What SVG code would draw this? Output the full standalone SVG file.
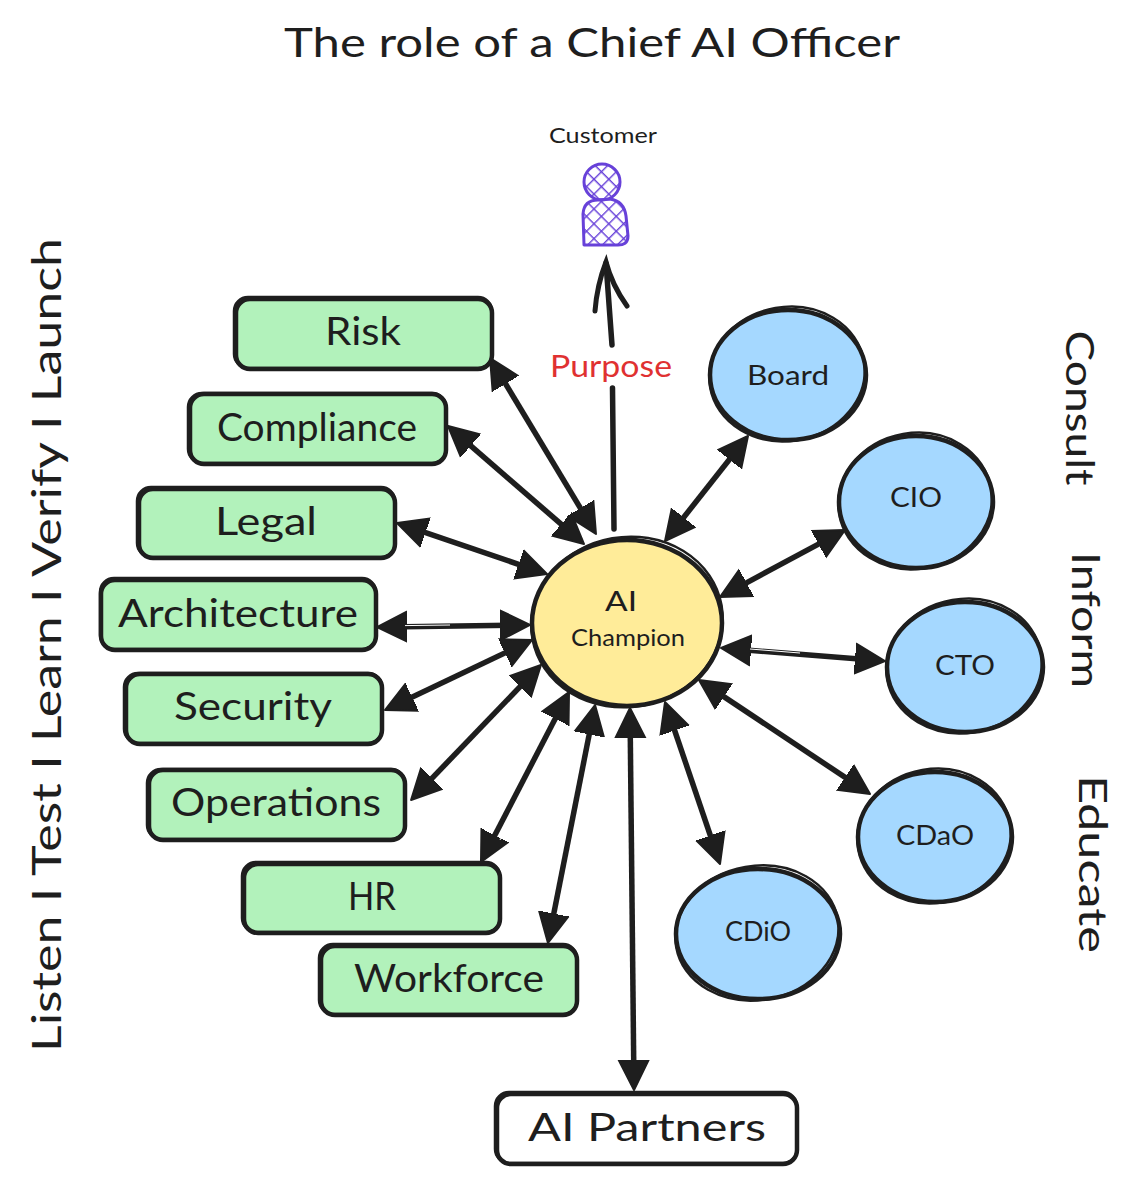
<svg xmlns="http://www.w3.org/2000/svg" width="1144" height="1183" viewBox="0 0 1144 1183">
<style>
text{font-family:"Lato","Noto Sans",sans-serif;fill:#1e1e1e;text-anchor:middle}
.box{stroke:#1e1e1e;stroke-width:4.5;stroke-linejoin:round}
.sk{fill:none;stroke:#1e1e1e;stroke-width:2.5}
.g{fill:#b2f2bb}.b{fill:#a5d8ff}.y{fill:#ffec99}.w{fill:#fff}
.l{font-size:38px}.c{font-size:27px}
.arr{fill:none;stroke:#1e1e1e;stroke-width:5.5;marker-start:url(#h);marker-end:url(#h)}
.gap{fill:none;stroke:#fff;stroke-width:1}
</style>
<defs>
<marker id="h" markerUnits="userSpaceOnUse" markerWidth="34" markerHeight="34" refX="20" refY="15" viewBox="0 0 34 30" orient="auto-start-reverse">
<path d="M0,0 L30,15 L0,30 Z" fill="#1e1e1e" stroke="#1e1e1e" stroke-width="2" stroke-linejoin="round"/>
</marker>
<pattern id="hatch" patternUnits="userSpaceOnUse" width="10.5" height="10.5" patternTransform="rotate(45)">
<path d="M0,0H10.5M0,0V10.5" stroke="#6741d9" stroke-width="2.8" fill="none"/>
</pattern>
</defs>

<g id="connectors">
<path class="arr" d="M495.2,366.6L590.8,525.4"/>
<path class="arr" d="M455.6,432.6L576.4,537.4"/>
<path class="arr" d="M406.5,526.2L537.5,570.8"/>
<path class="arr" d="M387,627L520,625"/>
<path class="arr" d="M394,705.7L523,644.3"/>
<path class="arr" d="M418,792.8L534,672.2"/>
<path class="arr" d="M485.6,853.1L564.4,700.9"/>
<path class="arr" d="M549.9,933.2L593.1,714.8"/>
<path class="arr" d="M633.9,1080L630.1,718"/>
<path class="arr" d="M716.8,854.5L668.2,711.5"/>
<path class="arr" d="M861.7,788.4L707.3,685.6"/>
<path class="arr" d="M875,660.2L731,648.8"/>
<path class="arr" d="M836.2,534.7L728.8,592.3"/>
<path class="arr" d="M741.8,443.8L671.2,533.2"/>
<path class="gap" d="M405,625.6L450,625"/>
<path class="gap" d="M500,840L545,752"/>
<path class="gap" d="M750,649L800,653"/>
<g id="purpose-arrow" fill="none" stroke="#1e1e1e" stroke-linecap="round">
<path d="M614,529L612.5,388M612,345L606,263" stroke-width="5.5"/>
<path d="M595,311Q597,285 606,262Q612,285 627,306" stroke-width="5"/>
</g>
</g>

<g id="title"><text x="592" y="57" font-size="40" textLength="616" lengthAdjust="spacingAndGlyphs">The role of a Chief AI Officer</text></g>
<g id="side-labels">
<text transform="translate(61,645) rotate(-90)" font-size="41" textLength="814" lengthAdjust="spacingAndGlyphs">Listen I Test I Learn I Verify I Launch</text>
<text transform="translate(1066,408) rotate(90)" font-size="38" textLength="155" lengthAdjust="spacingAndGlyphs">Consult</text>
<text transform="translate(1072,620) rotate(90)" font-size="38" textLength="136" lengthAdjust="spacingAndGlyphs">Inform</text>
<text transform="translate(1079,864) rotate(90)" font-size="38" textLength="178" lengthAdjust="spacingAndGlyphs">Educate</text>
</g>

<g id="customer">
<text x="603" y="143" font-size="22" textLength="108" lengthAdjust="spacingAndGlyphs">Customer</text>
<circle cx="602" cy="182" r="18" fill="url(#hatch)" stroke="#6741d9" stroke-width="3"/>
<path d="M584,245L583,214Q584,200 598,200L610,199Q624,201 626,216L628,236Q628,246 616,245Z" fill="url(#hatch)" stroke="#6741d9" stroke-width="3" stroke-linejoin="round"/>
</g>
<g id="purpose"><text x="611" y="377" font-size="31" style="fill:#e03131" textLength="122" lengthAdjust="spacingAndGlyphs">Purpose</text></g>

<g id="risk"><rect class="box g" x="236" y="299" width="256" height="70" rx="14"/><rect class="sk" x="234" y="297" width="258" height="71" rx="14"/><text class="l" x="363" y="345" textLength="76" lengthAdjust="spacingAndGlyphs">Risk</text></g>
<g id="compliance"><rect class="box g" x="190" y="394" width="256" height="70" rx="14"/><rect class="sk" x="188" y="393" width="258" height="70" rx="14"/><text class="l" x="317" y="441" textLength="200" lengthAdjust="spacingAndGlyphs">Compliance</text></g>
<g id="legal"><rect class="box g" x="139" y="489" width="256" height="69" rx="14"/><rect class="sk" x="137" y="487" width="258" height="70" rx="14"/><text class="l" x="266" y="535" textLength="102" lengthAdjust="spacingAndGlyphs">Legal</text></g>
<g id="architecture"><rect class="box g" x="101" y="580" width="275" height="70" rx="14"/><rect class="sk" x="100" y="578" width="276" height="71" rx="14"/><text class="l" x="238" y="627" textLength="240" lengthAdjust="spacingAndGlyphs">Architecture</text></g>
<g id="security"><rect class="box g" x="126" y="674" width="256" height="70" rx="14"/><rect class="sk" x="124" y="673" width="258" height="70" rx="14"/><text class="l" x="253" y="720" textLength="158" lengthAdjust="spacingAndGlyphs">Security</text></g>
<g id="operations"><rect class="box g" x="149" y="770" width="256" height="70" rx="14"/><rect class="sk" x="147" y="769" width="258" height="70" rx="14"/><text class="l" x="276" y="816" textLength="210" lengthAdjust="spacingAndGlyphs">Operations</text></g>
<g id="hr"><rect class="box g" x="244" y="864" width="256" height="69" rx="14"/><rect class="sk" x="242" y="862" width="258" height="70" rx="14"/><text class="l" x="372" y="910" textLength="48" lengthAdjust="spacingAndGlyphs">HR</text></g>
<g id="workforce"><rect class="box g" x="321" y="946" width="256" height="69" rx="14"/><rect class="sk" x="319" y="944" width="258" height="70" rx="14"/><text class="l" x="449" y="992" textLength="190" lengthAdjust="spacingAndGlyphs">Workforce</text></g>
<g id="ai-partners"><rect class="box w" x="497" y="1094" width="300" height="70" rx="14"/><rect class="sk" x="495" y="1092" width="302" height="71" rx="14"/><text class="l" x="647" y="1141" textLength="238" lengthAdjust="spacingAndGlyphs">AI Partners</text></g>

<g id="board"><ellipse class="box b" cx="788" cy="375" rx="78" ry="65"/><ellipse class="sk" cx="787" cy="374" rx="78" ry="67" transform="rotate(-10 787 374)"/><text class="c" x="788" y="385" textLength="82" lengthAdjust="spacingAndGlyphs">Board</text></g>
<g id="cio"><ellipse class="box b" cx="916" cy="502" rx="77" ry="66"/><ellipse class="sk" cx="915" cy="501" rx="77" ry="68" transform="rotate(-10 915 501)"/><text class="c" x="916" y="507" textLength="52" lengthAdjust="spacingAndGlyphs">CIO</text></g>
<g id="cto"><ellipse class="box b" cx="965" cy="667" rx="78" ry="65"/><ellipse class="sk" cx="964" cy="666" rx="78" ry="67" transform="rotate(-10 964 666)"/><text class="c" x="965" y="675" textLength="60" lengthAdjust="spacingAndGlyphs">CTO</text></g>
<g id="cdao"><ellipse class="box b" cx="935" cy="837" rx="77" ry="65"/><ellipse class="sk" cx="934" cy="836" rx="77" ry="67" transform="rotate(-10 934 836)"/><text class="c" x="935" y="845" textLength="78" lengthAdjust="spacingAndGlyphs">CDaO</text></g>
<g id="cdio"><ellipse class="box b" cx="758" cy="934" rx="82" ry="65"/><ellipse class="sk" cx="757" cy="933" rx="82" ry="67" transform="rotate(-10 757 933)"/><text class="c" x="758" y="941" textLength="66" lengthAdjust="spacingAndGlyphs">CDiO</text></g>
<g id="ai-champion"><ellipse class="box y" cx="627" cy="623" rx="95" ry="83"/><ellipse class="sk" cx="627" cy="622" rx="96" ry="85" transform="rotate(-10 627 622)"/><text x="621" y="611" font-size="27" textLength="32" lengthAdjust="spacingAndGlyphs">AI</text><text x="628" y="646" font-size="24" textLength="114" lengthAdjust="spacingAndGlyphs">Champion</text></g>
</svg>
